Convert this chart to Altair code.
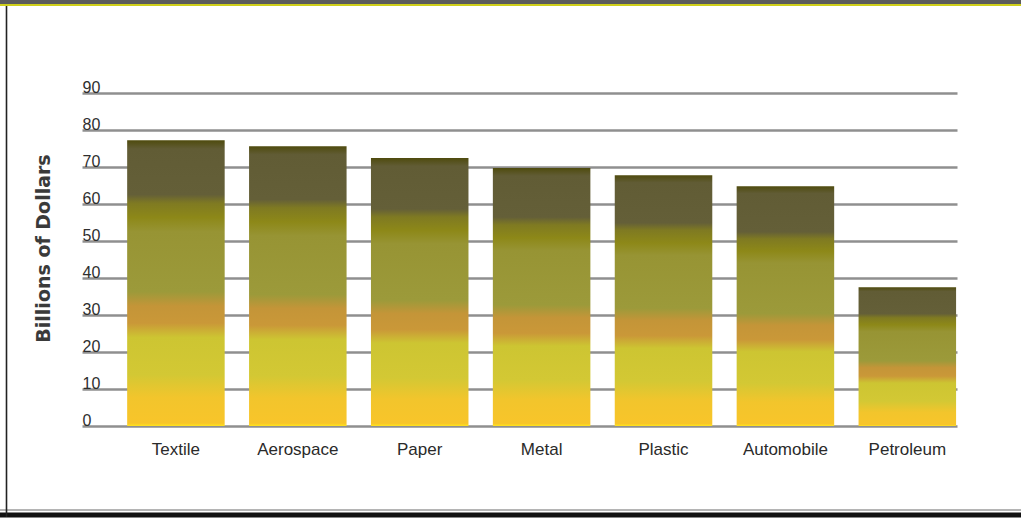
import altair as alt
import pandas as pd

categories = ["Textile", "Aerospace", "Paper", "Metal", "Plastic", "Automobile", "Petroleum"]
values = [77.2, 75.6, 72.4, 69.7, 67.8, 64.8, 37.5]
y_ticks = [0, 10, 20, 30, 40, 50, 60, 70, 80, 90]

df = pd.DataFrame({"industry": categories, "value": values})

stops = [
    (0.0, "#FFE41C"),
    (0.01, "#F8C52A"),
    (0.10, "#F2C52C"),
    (0.18, "#D3C834"),
    (0.31, "#CDC532"),
    (0.36, "#CA9838"),
    (0.42, "#C49538"),
    (0.47, "#9C9A3A"),
    (0.68, "#979434"),
    (0.73, "#8D8818"),
    (0.78, "#7F7A22"),
    (0.81, "#645F38"),
    (0.97, "#615C35"),
    (1.0, "#4F4B0E"),
]
grad = alt.Gradient(
    gradient="linear",
    stops=[alt.GradientStop(offset=o, color=c) for o, c in stops],
    x1=0, x2=0, y1=1, y2=0,
)

LEFT, TOP = 82, 93
W, H = 875, 333
RIGHT = 1021 - LEFT - W
BOTTOM = 519 - TOP - H

bars = alt.Chart(df).mark_bar(color=grad).encode(
    x=alt.X(
        "industry:N",
        sort=categories,
        scale=alt.Scale(paddingInner=0.2, paddingOuter=0.189, align=0.98),
        axis=alt.Axis(
            title=None, labelAngle=0, ticks=False, tickSize=0, domain=False,
            labelPadding=15, labelBaseline="top",
            labelFont="Liberation Sans", labelFontSize=17, labelColor="#2a2a2a",
        ),
    ),
    y=alt.Y(
        "value:Q",
        scale=alt.Scale(domain=[0, 90], nice=False, zero=True),
        axis=alt.Axis(
            values=y_ticks, title="Billions of Dollars",
            ticks=False, tickSize=0, domain=False, labelPadding=0,
            labelAlign="left", labelBaseline="alphabetic", labelOffset=-1,
            labelFlush=False, labelOverlap=False,
            labelFont="Liberation Sans", labelFontSize=16, labelColor="#2e2e2e",
            grid=True, gridColor="#8f8f8f", gridWidth=2.5,
            titleFont="DejaVu Sans", titleFontWeight="bold", titleFontSize=19,
            titleColor="#3a3a3a", titleAngle=270, titleAlign="center",
            titleBaseline="middle", titleX=43 - LEFT, titleY=248 - TOP,
        ),
    ),
)

one = alt.Data(values=[{}])

def hrule(y_abs, color, width):
    return alt.Chart(one).mark_rule(color=color, strokeWidth=width).encode(
        x=alt.value(-LEFT), x2=alt.value(1021 - LEFT), y=alt.value(y_abs - TOP)
    )

frame = [
    hrule(2, "#5c5c5c", 4),
    hrule(5, "#cfcf1a", 2),
    hrule(510, "#b4b4b4", 2),
    hrule(515, "#111111", 5),
    alt.Chart(one).mark_rule(color="#222222", strokeWidth=1.6).encode(
        x=alt.value(6.5 - LEFT), y=alt.value(6 - TOP), y2=alt.value(517 - TOP)
    ),
]

chart = alt.layer(bars, *frame).properties(
    width=W, height=H,
    autosize=alt.AutoSizeParams(type="none"),
    padding={"left": LEFT, "top": TOP, "right": RIGHT, "bottom": BOTTOM},
    background="white",
).configure_view(stroke=None)

chart.save("out.html", embed_options={"renderer": "svg", "actions": False})
